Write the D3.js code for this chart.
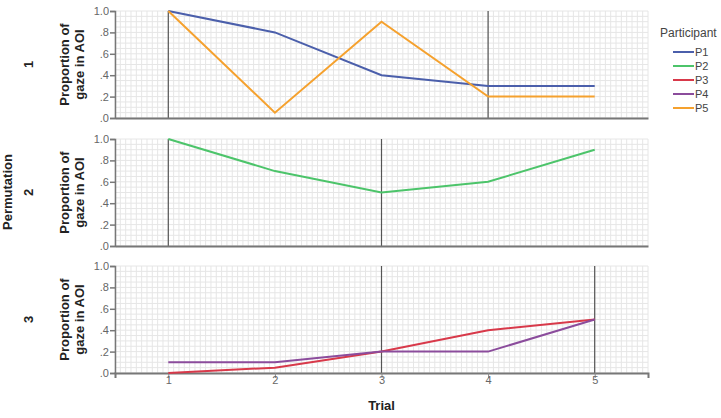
<!DOCTYPE html>
<html>
<head>
<meta charset="utf-8">
<script src="https://d3js.org/d3.v7.min.js"></script>
<style>
  body { margin: 0; background: #fff; }
  svg { font-family: "Liberation Sans", Arial, sans-serif; }
</style>
</head>
<body>
<script>
// trials on the x axis
var trials = [1, 2, 3, 4, 5];
var yTicks = [0, 0.2, 0.4, 0.6, 0.8, 1.0];
var yTickLabels = [".0", ".2", ".4", ".6", ".8", "1.0"];

// participants and their values per trial
var participants = ["P1", "P2", "P3", "P4", "P5"];
var colors = ["#4b5fab", "#4cc46a", "#d8394a", "#8b4c9c", "#f5a12e"];
var p1 = [1.0, 0.8, 0.4, 0.3, 0.3];
var p2 = [1.0, 0.7, 0.5, 0.6, 0.9];
var p3 = [0.0, 0.05, 0.2, 0.4, 0.5];
var p4 = [0.1, 0.1, 0.2, 0.2, 0.5];
var p5 = [1.0, 0.05, 0.9, 0.2, 0.2];

// which participants belong to which permutation panel
var permutations = ["1", "2", "3"];
var panelSeries = [["P1", "P5"], ["P2"], ["P3", "P4"]];
var refLines = [[1, 4], [1, 3], [3, 5]];

var values = { P1: p1, P2: p2, P3: p3, P4: p4, P5: p5 };

var w = 721, h = 418;
var svg = d3.select("body").append("svg").attr("width", w).attr("height", h);

var x = d3.scaleLinear().domain([0.5, 5.5]).range([115, 648]);
var panelTops = [11, 139, 266];
var panelH = 107;

var color = d3.scaleOrdinal().domain(participants).range(colors);

panelTops.forEach(function(top, i) {
  var y = d3.scaleLinear().domain([0, 1]).range([top + panelH, top]);
  var g = svg.append("g");

  // fine grid
  g.append("g").selectAll("line").data(d3.range(0.5, 5.5001, 0.05)).enter()
    .append("line")
    .attr("x1", function(d) { return x(d); }).attr("x2", function(d) { return x(d); })
    .attr("y1", y(1)).attr("y2", y(0))
    .attr("stroke", "#e6e6e6").attr("stroke-width", 1);
  g.append("g").selectAll("line").data(d3.range(0, 1.0001, 0.05)).enter()
    .append("line")
    .attr("x1", x(0.5)).attr("x2", x(5.5))
    .attr("y1", function(d) { return y(d); }).attr("y2", function(d) { return y(d); })
    .attr("stroke", "#e6e6e6").attr("stroke-width", 1);

  // reference lines
  g.selectAll("line.ref").data(refLines[i]).enter()
    .append("line").attr("class", "ref")
    .attr("x1", function(d) { return x(d); }).attr("x2", function(d) { return x(d); })
    .attr("y1", y(1)).attr("y2", y(0))
    .attr("stroke", "#555").attr("stroke-width", 1.2);

  // y axis
  var yAxis = d3.axisLeft(y).tickValues(yTicks).tickSize(5)
    .tickFormat(function(d, k) { return yTickLabels[k]; });
  var ya = g.append("g").attr("transform", "translate(" + x(0.5) + ",0)").call(yAxis);
  ya.select(".domain").attr("stroke", "#777").attr("stroke-width", 1.5);
  ya.selectAll(".tick line").attr("stroke", "#777").attr("stroke-width", 1.5);
  ya.selectAll("text").attr("fill", "#666").attr("font-size", 11).attr("dx", 2);

  // bottom axis line
  var xAxis = d3.axisBottom(x).tickValues(trials).tickSize(i === 2 ? 5 : 0).tickFormat(i === 2 ? d3.format("d") : "");
  var xa = g.append("g").attr("transform", "translate(0," + y(0) + ")").call(xAxis);
  xa.select(".domain").attr("stroke", "#777").attr("stroke-width", 2);
  xa.selectAll(".tick line").attr("stroke", "#888");
  xa.selectAll("text").attr("fill", "#666").attr("font-size", 11).attr("dy", 3);

  // series
  var line = d3.line().x(function(d, k) { return x(trials[k]); }).y(function(d) { return y(d); });
  panelSeries[i].forEach(function(p) {
    g.append("path").datum(values[p])
      .attr("d", line).attr("fill", "none")
      .attr("stroke", color(p)).attr("stroke-width", 2);
  });

  // titles
  var cy = top + panelH / 2;
  g.append("text").attr("transform", "translate(69," + cy + ") rotate(-90)")
    .attr("text-anchor", "middle").attr("font-weight", "bold").attr("font-size", 13)
    .attr("fill", "#222").text("Proportion of");
  g.append("text").attr("transform", "translate(84," + cy + ") rotate(-90)")
    .attr("text-anchor", "middle").attr("font-weight", "bold").attr("font-size", 13)
    .attr("fill", "#222").text("gaze in AOI");
  g.append("text").attr("transform", "translate(33," + cy + ") rotate(-90)")
    .attr("text-anchor", "middle").attr("font-weight", "bold").attr("font-size", 13)
    .attr("fill", "#222").text(permutations[i]);
});

svg.append("text").attr("transform", "translate(12,192) rotate(-90)")
  .attr("text-anchor", "middle").attr("font-weight", "bold").attr("font-size", 13)
  .attr("fill", "#222").text("Permutation");

svg.append("text").attr("x", x(3)).attr("y", 410)
  .attr("text-anchor", "middle").attr("font-weight", "bold").attr("font-size", 13)
  .attr("fill", "#222").text("Trial");

// legend
var lg = svg.append("g");
lg.append("text").attr("x", 660).attr("y", 37).attr("font-size", 12).attr("fill", "#444").text("Participant");
var items = lg.selectAll("g.item").data(participants).enter().append("g").attr("class", "item")
  .attr("transform", function(d, k) { return "translate(0," + (52 + k * 14) + ")"; });
items.append("line").attr("x1", 673).attr("x2", 694).attr("y1", 0).attr("y2", 0)
  .attr("stroke", function(d) { return color(d); }).attr("stroke-width", 2);
items.append("text").attr("x", 695).attr("y", 4).attr("font-size", 11).attr("fill", "#444").text(function(d) { return d; });
</script>
</body>
</html>
